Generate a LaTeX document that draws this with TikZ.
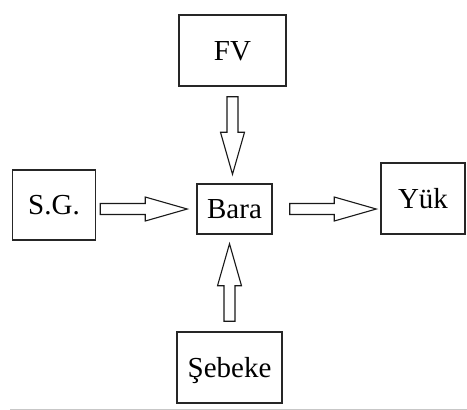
\documentclass[tikz,border=0pt]{standalone}
\usepackage{fontspec}
\setmainfont{Liberation Serif}
\usetikzlibrary{positioning,calc}

\begin{document}
\begin{tikzpicture}[on grid, font=\fontsize{29pt}{34pt}\selectfont,
  box/.style 2 args={draw=black!85, line width=1.5pt, minimum width=#1, minimum height=#2, inner sep=0pt, text height=19pt, text depth=0pt},
  fat/.style 2 args={draw=black!90, fill=white, line width=1.1pt, to path={
    ($(\tikztostart)!#1!(\tikztotarget)$) coordinate (fs)
    ($(\tikztotarget)!#2!(\tikztostart)$) coordinate (ft)
    ($(ft)!42pt!(fs)$) coordinate (fh)
    ($(fs)!5.5pt!90:(ft)$) -- ($(fh)!5.5pt!90:(ft)$) -- ($(fh)!12pt!90:(ft)$) -- (ft)
    -- ($(fh)!12pt!-90:(ft)$) -- ($(fh)!5.5pt!-90:(ft)$) -- ($(fs)!5.5pt!-90:(ft)$) -- cycle}}]
  \useasboundingbox (0,0) rectangle (467pt,-410pt);
  \node[box={75pt}{50pt}] (bara) at (234.5pt,-209pt) {Bara};
  \node[box={107pt}{71pt}] (fv) [above=158.5pt of bara, xshift=-2pt] {FV};
  \node[box={105pt}{71pt}] (seb) [below=158.5pt of bara, xshift=-5pt] {Şebeke};
  \node[box={83pt}{70pt}] (sg) [left=180.5pt of bara, yshift=4pt] {S.G.};
  \node[box={84pt}{71pt}] (yuk) [right=188.5pt of bara, yshift=10.5pt] {Yük};
  \draw[fat={4pt}{9pt}] (sg.east |- bara.west) to (bara.west);
  \draw[fat={17pt}{4pt}] (bara.east) to (yuk.west |- bara.east);
  \draw[fat={10pt}{9pt}] (fv.south) to (fv.south |- bara.north);
  \draw[fat={10pt}{9pt}] (seb.north) to (seb.north |- bara.south);
  \draw[black!22, line width=1pt] (10pt,-409.3pt) -- (467pt,-409.3pt);
\end{tikzpicture}
\end{document}
